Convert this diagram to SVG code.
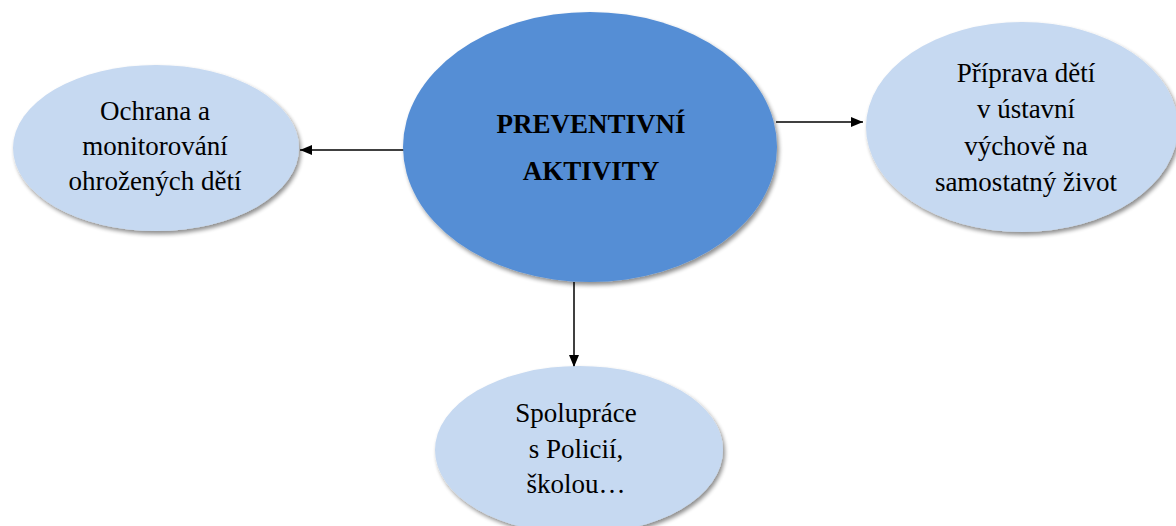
<svg xmlns="http://www.w3.org/2000/svg" width="1176" height="526" viewBox="0 0 1176 526">
<style>
text{font-family:'Liberation Serif','Times New Roman','DejaVu Serif',serif;font-size:27px;fill:#000;text-anchor:middle}
.ctr{font-weight:bold}
.light{fill:#C6D9F1}
.dark{fill:#558ED5}
.conn{stroke:#000;stroke-width:1.5;fill:none;marker-end:url(#arr)}
</style>
<defs>
<marker id="arr" viewBox="0 0 12 10" refX="12" refY="5" markerWidth="12" markerHeight="10" markerUnits="userSpaceOnUse" orient="auto">
<path d="M0,0 L12,5 L0,10 Z" fill="#000"/>
</marker>
<filter id="sh" x="-10%" y="-10%" width="125%" height="125%">
<feGaussianBlur in="SourceAlpha" stdDeviation="2"/>
<feOffset dx="2" dy="3" result="b"/>
<feComponentTransfer><feFuncA type="linear" slope="0.45"/></feComponentTransfer>
<feMerge><feMergeNode/><feMergeNode in="SourceGraphic"/></feMerge>
</filter>
</defs>
<rect width="1176" height="526" fill="#fff"/>
<g id="connectors">
<line class="conn" x1="404" y1="150" x2="300" y2="150"/>
<line class="conn" x1="776" y1="122" x2="863" y2="122"/>
<line class="conn" x1="574" y1="282" x2="574" y2="367"/>
</g>
<g id="center">
<ellipse class="dark" cx="590" cy="147" rx="187" ry="135" filter="url(#sh)"/>
<text class="ctr" font-family="Liberation Serif, serif" x="591" y="133">PREVENTIVNÍ</text>
<text class="ctr" font-family="Liberation Serif, serif" x="591" y="180">AKTIVITY</text>
</g>
<g id="left">
<ellipse class="light" cx="156" cy="148" rx="143" ry="83" filter="url(#sh)"/>
<text font-family="Liberation Serif, serif" x="155" y="120">Ochrana a</text>
<text font-family="Liberation Serif, serif" x="155" y="155">monitorování</text>
<text font-family="Liberation Serif, serif" x="155" y="190">ohrožených dětí</text>
</g>
<g id="right">
<ellipse class="light" cx="1022" cy="127" rx="156" ry="105" filter="url(#sh)"/>
<text font-family="Liberation Serif, serif" x="1026" y="82">Příprava dětí</text>
<text font-family="Liberation Serif, serif" x="1026" y="118">v ústavní</text>
<text font-family="Liberation Serif, serif" x="1026" y="155">výchově na</text>
<text font-family="Liberation Serif, serif" x="1026" y="191">samostatný život</text>
</g>
<g id="bottom">
<ellipse class="light" cx="579" cy="450" rx="144" ry="84" filter="url(#sh)"/>
<text font-family="Liberation Serif, serif" x="576" y="422">Spolupráce</text>
<text font-family="Liberation Serif, serif" x="576" y="458">s Policií,</text>
<text font-family="Liberation Serif, serif" x="576" y="493">školou…</text>
</g>
</svg>
